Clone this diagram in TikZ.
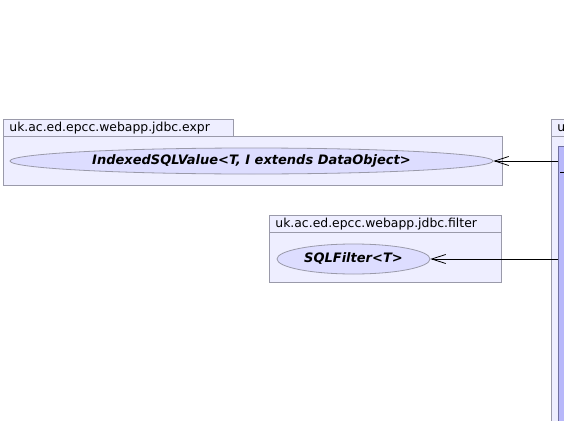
\documentclass[tikz,border=0pt]{standalone}
\usepackage{fontspec}
\setmainfont{DejaVu Sans}
\usetikzlibrary{shapes.geometric,arrows.meta}

\definecolor{pkgfill}{HTML}{EEEEFF}
\definecolor{pkgline}{HTML}{9A9AAA}
\definecolor{ucfill}{HTML}{DDDDFF}
\definecolor{clsfill}{HTML}{B8B8FA}
\definecolor{clsline}{HTML}{7070A0}

\begin{document}
\begin{tikzpicture}[
    x=1pt, y=-1pt,
    pkgtab/.style={draw=pkgline, fill=pkgfill, line width=0.8pt, anchor=north west,
        minimum height=17pt, inner xsep=6pt, inner ysep=0pt, align=left,
        font=\fontsize{12.4}{14}\selectfont},
    pkgbody/.style={draw=pkgline, fill=pkgfill, line width=0.8pt, anchor=north west,
        inner sep=0pt},
    usecase/.style={ellipse, draw=pkgline, fill=ucfill, line width=0.8pt, inner sep=0pt,
        font=\fontsize{13}{14}\selectfont\bfseries\itshape},
    classbox/.style={draw=clsline, fill=clsfill, line width=0.8pt, anchor=north west,
        inner sep=0pt},
    dep/.style={-{Straight Barb[length=14pt,width=9pt]}, line width=0.8pt}
]
\useasboundingbox[fill=white] (0,0) rectangle (564,420);

% package jdbc.expr
\node[pkgtab, minimum width=230pt, text width=218pt] (exprtab) at (3,119) {uk.ac.ed.epcc.webapp.jdbc.expr};
\node[pkgbody, minimum width=499pt, minimum height=49pt] (exprbody) at (3,136) {};
\node[usecase, minimum width=483pt, minimum height=26pt] (indexed) at (251.5,161) {IndexedSQLValue<T, I extends DataObject>};

% package jdbc.filter
\node[pkgtab, minimum width=232pt, text width=220pt] (filtertab) at (269,215) {uk.ac.ed.epcc.webapp.jdbc.filter};
\node[pkgbody, minimum width=232pt, minimum height=50pt] (filterbody) at (269,232) {};
\node[usecase, minimum width=153pt, minimum height=30pt] (sqlfilter) at (353.5,259) {SQLFilter<T>};

% package on the right, cut off by the page
\node[pkgtab, minimum width=40pt, text width=28pt] (usertab) at (551,119) {u};
\node[pkgbody, minimum width=40pt, minimum height=300pt] (userbody) at (551,136) {};
\node[classbox, minimum width=30pt, minimum height=290pt] (cls) at (558,146) {};
\coordinate (sep) at (560,172);
\draw[line width=0.8pt] (sep) -- (sep -| userbody.east);

% dependencies
\draw[dep] (cls.west |- indexed.east) -- (indexed.east);
\draw[dep] (cls.west |- sqlfilter.east) -- (sqlfilter.east);
\end{tikzpicture}
\end{document}
